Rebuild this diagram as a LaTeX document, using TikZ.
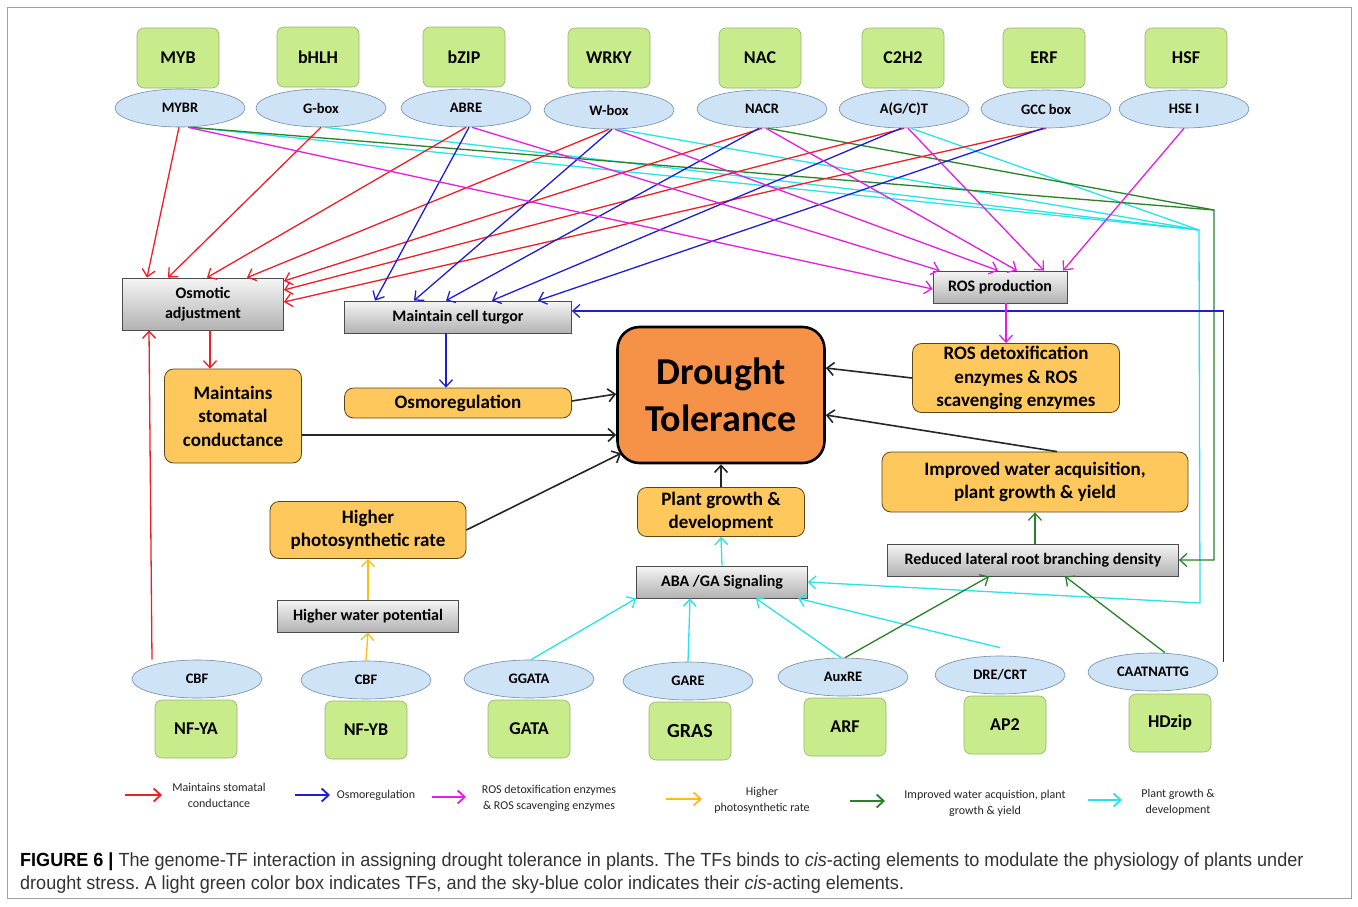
\documentclass[tikz,border=0pt]{standalone}
\usepackage{fontspec}
\setmainfont{Carlito}
\newfontfamily\capfont[FakeStretch=0.95]{Liberation Sans}
\usetikzlibrary{shapes.geometric,arrows.meta,calc}
\definecolor{tfg}{RGB}{200,236,140}
\definecolor{tfb}{RGB}{150,180,110}
\definecolor{cisf}{RGB}{206,228,246}
\definecolor{cisb}{RGB}{110,140,170}
\definecolor{orgf}{RGB}{255,200,92}
\definecolor{orgb}{RGB}{90,70,20}
\definecolor{dtf}{RGB}{245,146,72}
\definecolor{cr}{RGB}{240,30,40}
\definecolor{cb}{RGB}{30,30,210}
\definecolor{cm}{RGB}{228,30,228}
\definecolor{cg}{RGB}{40,130,40}
\definecolor{cy}{RGB}{40,228,232}
\definecolor{co}{RGB}{250,190,20}
\definecolor{framec}{RGB}{160,160,160}
\frenchspacing
\begin{document}
\begin{tikzpicture}[x=1pt,y=-1pt,
  tf/.style={rectangle, rounded corners=7pt, draw=tfb, fill=tfg, line width=0.6pt,
     minimum width=82pt, minimum height=60pt, inner sep=0pt,
     font=\fontsize{18}{20}\selectfont\bfseries},
  cis/.style={ellipse, draw=cisb, fill=cisf, line width=0.6pt,
     minimum width=130pt, minimum height=38pt, inner sep=0pt,
     font=\fontsize{14.5}{16}\selectfont\bfseries},
  graybox/.style={rectangle, draw=black!70, top color=black!4, bottom color=black!30,
     line width=0.8pt, inner sep=0pt, align=center,
     font=\fontsize{16}{20}\selectfont\bfseries},
  obox/.style={rectangle, rounded corners=9pt, draw=orgb, fill=orgf, line width=0.8pt,
     inner sep=0pt, align=center, font=\fontsize{19}{23.5}\selectfont\bfseries},
  conn/.style={line width=1.3pt, -{Straight Barb[length=7pt,width=13pt]}},
  rd/.style={conn, draw=cr}, bl/.style={conn, draw=cb}, mg/.style={conn, draw=cm},
  gn/.style={conn, draw=cg}, cyl/.style={conn, draw=cy}, og/.style={conn, draw=co},
  bk/.style={conn, draw=black!85, line width=1.6pt},
  lgarrow/.style={line width=1.8pt, -{Straight Barb[length=7pt,width=13pt]}},
  leg/.style={align=center, inner sep=0pt, text=black!85, font=\fontsize{12}{16}\selectfont}
]
\useasboundingbox (0,0) rectangle (1358,906);
\fill[white] (0,0) rectangle (1358,906);
\draw[framec, line width=0.8pt] (7,7) rectangle (1351,898);

% top TFs
\node[tf] (myb)  at (178,58) {MYB};
\node[tf] (bhlh) at (318,57) {bHLH};
\node[tf] (bzip) at (464,57) {bZIP};
\node[tf] (wrky) at (609,58) {WRKY};
\node[tf] (nac)  at (760,58) {NAC};
\node[tf] (c2h2) at (903,58) {C2H2};
\node[tf] (erf)  at (1044,58) {ERF};
\node[tf] (hsf)  at (1186,58) {HSF};
% top cis elements
\node[cis] (mybr) at (180,108) {MYBR};
\node[cis] (gb)   at (321,108) {G-box};
\node[cis] (abre) at (466,108) {ABRE};
\node[cis] (wbox) at (609,110) {W-box};
\node[cis] (nacr) at (762,109) {NACR};
\node[cis] (agct) at (904,109) {A(G/C)T};
\node[cis] (gcc)  at (1046,109) {GCC box};
\node[cis] (hse)  at (1184,109) {HSE I};

% middle
\node[graybox, minimum width=161pt, minimum height=52pt] (osm) at (203,304) {Osmotic\\adjustment};
\node[graybox, minimum width=227pt, minimum height=32pt] (turgor) at (458,317) {Maintain cell turgor};
\node[graybox, minimum width=134pt, minimum height=32pt] (ros) at (1000,287) {ROS production};
\node[rectangle, rounded corners=22pt, draw=black, line width=2.6pt, fill=dtf,
      minimum width=207pt, minimum height=136pt, align=center,
      font=\fontsize{38}{47}\selectfont\bfseries] (dt) at (721,395) {Drought\\Tolerance};
\node[obox, minimum width=227pt, minimum height=30pt] (osmreg) at (458,403) {Osmoregulation};
\node[obox, minimum width=137pt, minimum height=94pt] (stom) at (233,416) {Maintains\\stomatal\\conductance};
\node[obox, minimum width=207pt, minimum height=69pt] (rosdet) at (1016,378) {ROS detoxification\\enzymes \& ROS\\scavenging enzymes};
\node[obox, minimum width=306pt, minimum height=60pt] (impr) at (1035,482) {Improved water acquisition,\\plant growth \& yield};
\node[obox, minimum width=167pt, minimum height=49pt] (plant) at (721,512) {Plant growth \&\\development};
\node[obox, minimum width=196pt, minimum height=57pt] (photo) at (368,530) {Higher\\photosynthetic rate};
\node[graybox, minimum width=171pt, minimum height=32pt] (aba) at (722,582) {ABA /GA Signaling};
\node[graybox, minimum width=291pt, minimum height=32pt] (lrb) at (1033,560) {Reduced lateral root branching density};
\node[graybox, minimum width=181pt, minimum height=32pt] (hwp) at (368,616) {Higher water potential};

% bottom cis elements
\node[cis] (cbfa)  at (197,679) {CBF};
\node[cis] (cbfb)  at (366,680) {CBF};
\node[cis] (ggata) at (529,679) {GGATA};
\node[cis] (gare)  at (688,681) {GARE};
\node[cis] (auxre) at (843,677) {AuxRE};
\node[cis] (dre)   at (1000,675) {DRE/CRT};
\node[cis] (caat)  at (1153,672) {CAATNATTG};
% bottom TFs
\node[tf, minimum height=58pt] (nfya)  at (196,729) {NF-YA};
\node[tf, minimum height=58pt] (nfyb)  at (366,730) {NF-YB};
\node[tf, minimum height=58pt] (gata)  at (529,729) {GATA};
\node[tf, minimum height=58pt, font=\fontsize{20}{22}\selectfont\bfseries] (gras) at (690,731) {GRAS};
\node[tf, minimum height=58pt] (arf)   at (845,727) {ARF};
\node[tf, minimum height=58pt] (ap2)   at (1005,725) {AP2};
\node[tf, minimum height=58pt] (hdzip) at (1170,723) {HDzip};

% junctions
\coordinate (gj) at (1214,210);
\coordinate (cj) at (1199,230);
\coordinate (cj2) at (1200,603);

% cyan (top, drawn first)
\draw[cy, line width=1.3pt] ([xshift=12pt]mybr.south) -- (cj);
\draw[cy, line width=1.3pt] ([xshift=4pt]gb.south) -- (cj);
\draw[cy, line width=1.3pt] ([xshift=9pt]wbox.south) -- (cj);
\draw[cyl] ([xshift=7pt]agct.south) -- (cj) -- (cj2) -- (aba.east);
% green (top)
\draw[cg, line width=1.3pt] ([xshift=10pt]mybr.south) -- (gj);
\draw[gn] ([xshift=6pt]nacr.south) -- (gj) |- (lrb.east);
% red
\draw[rd] ([xshift=-1pt]mybr.south) -- ([xshift=-56pt]osm.north);
\draw[rd] (gb.south) -- ([xshift=-35pt]osm.north);
\draw[rd] (abre.south) -- ([xshift=4pt]osm.north);
\draw[rd] (wbox.south) -- ([xshift=44pt]osm.north);
\draw[rd] (nacr.south) -- ([yshift=23pt]osm.east);
\draw[rd] (agct.south) -- ([yshift=14pt]osm.east);
\draw[rd] (gcc.south) -- ([yshift=2pt]osm.east);
% blue
\draw[bl] ([xshift=3pt]abre.south) -- ([xshift=-83pt]turgor.north);
\draw[bl] ([xshift=3pt]wbox.south) -- ([xshift=-44pt]turgor.north);
\draw[bl] ([xshift=-3pt]nacr.south) -- ([xshift=-12pt]turgor.north);
\draw[bl] ([xshift=-3pt]agct.south) -- ([xshift=34pt]turgor.north);
\draw[bl] ([xshift=-3pt]gcc.south) -- ([xshift=80pt]turgor.north);
\draw[bl] ([shift={(5pt,10pt)}]caat.east) |- ([yshift=6pt]turgor.east);
% magenta
\draw[mg] ([xshift=8pt]mybr.south) -- ([yshift=-2pt]ros.west);
\draw[mg] ([xshift=6pt]abre.south) -- ([xshift=7pt]ros.north west);
\draw[mg] ([xshift=6pt]wbox.south) -- ([xshift=-2pt]ros.north);
\draw[mg] ([xshift=4pt]nacr.south) -- ([xshift=17pt]ros.north);
\draw[mg] ([xshift=4pt]agct.south) -- ([xshift=44pt]ros.north);
\draw[mg] (hse.south) -- ([xshift=63pt]ros.north);

% bottom connectors
\draw[cyl] ([xshift=2pt]ggata.north) -- (aba.south west);
\draw[cyl] (gare.north) -- ([xshift=-32pt]aba.south);
\draw[cyl] ([xshift=-2pt]auxre.north) -- ([xshift=34pt]aba.south);
\draw[cyl] ([yshift=8pt]dre.north) -- ([xshift=76pt]aba.south);
\draw[cyl] (aba.north) -- (plant.south);
\draw[gn] ([xshift=2pt]auxre.north) -- ([xshift=-44pt]lrb.south);
\draw[gn] ([xshift=12pt]caat.north) -- ([xshift=32pt]lrb.south);
\draw[gn] ([xshift=2pt]lrb.north) -- (impr.south);
\draw[rd] ([xshift=-45pt]cbfa.north) -- ([xshift=-54pt]osm.south);
\draw[rd] ([xshift=7pt]osm.south) -- ([xshift=-23pt]stom.north);
\draw[bl] ([xshift=-12pt]turgor.south) -- ([xshift=-12pt]osmreg.north);
\draw[mg] ([xshift=6pt]ros.south) -- ([xshift=-10pt]rosdet.north);
\draw[og] (cbfb.north) -- (hwp.south);
\draw[og] (hwp.north) -- (photo.south);
% black to Drought Tolerance
\draw[bk] ([yshift=2pt]osmreg.east) -- ([yshift=1pt]dt.west);
\draw[bk] ([yshift=-19pt]stom.east) -- ([yshift=-40pt]dt.west);
\draw[bk] (photo.east) -- ([shift={(5pt,11pt)}]dt.south west);
\draw[bk] (rosdet.west) -- ([yshift=27pt]dt.east);
\draw[bk] ([xshift=22pt]impr.north) -- ([yshift=-20pt]dt.east);
\draw[bk] (plant.north) -- (dt.south);

% legend
\coordinate (l1a) at (125,795); \coordinate (l1b) at (162,795);
\coordinate (l2a) at (295,795); \coordinate (l2b) at (330,795);
\coordinate (l3a) at (432,797); \coordinate (l3b) at (466,797);
\coordinate (l4a) at (666,799); \coordinate (l4b) at (702,799);
\coordinate (l5a) at (850,801); \coordinate (l5b) at (885,801);
\coordinate (l6a) at (1088,800); \coordinate (l6b) at (1122,800);
\draw[lgarrow, draw=cr] (l1a) -- (l1b);
\draw[lgarrow, draw=cb] (l2a) -- (l2b);
\draw[lgarrow, draw=cm] (l3a) -- (l3b);
\draw[lgarrow, draw=co] (l4a) -- (l4b);
\draw[lgarrow, draw=cg] (l5a) -- (l5b);
\draw[lgarrow, draw=cy] (l6a) -- (l6b);
\node[leg] (lt1) at (219,795) {Maintains stomatal\\conductance};
\node[leg] (lt2) at (376,795) {Osmoregulation};
\node[leg] (lt3) at (549,798) {ROS detoxification enzymes\\\& ROS scavenging enzymes};
\node[leg] (lt4) at (762,800) {Higher\\photosynthetic rate};
\node[leg] (lt5) at (985,803) {Improved water acquistion, plant\\growth \& yield};
\node[leg] (lt6) at (1178,802) {Plant growth \&\\development};

% caption
\node[anchor=base west, inner sep=0pt, text=black!80, font=\capfont\fontsize{19}{22}\selectfont] (cap1) at (20,866)
  {\textcolor{black}{\textbf{FIGURE 6 |}} The genome-TF interaction in assigning drought tolerance in plants. The TFs binds to \textit{cis}-acting elements to modulate the physiology of plants under};
\node[anchor=base west, inner sep=0pt, text=black!80, font=\capfont\fontsize{19}{22}\selectfont] (cap2) at (20,889)
  {drought stress. A light green color box indicates TFs, and the sky-blue color indicates their \textit{cis}-acting elements.};
\end{tikzpicture}
\end{document}
